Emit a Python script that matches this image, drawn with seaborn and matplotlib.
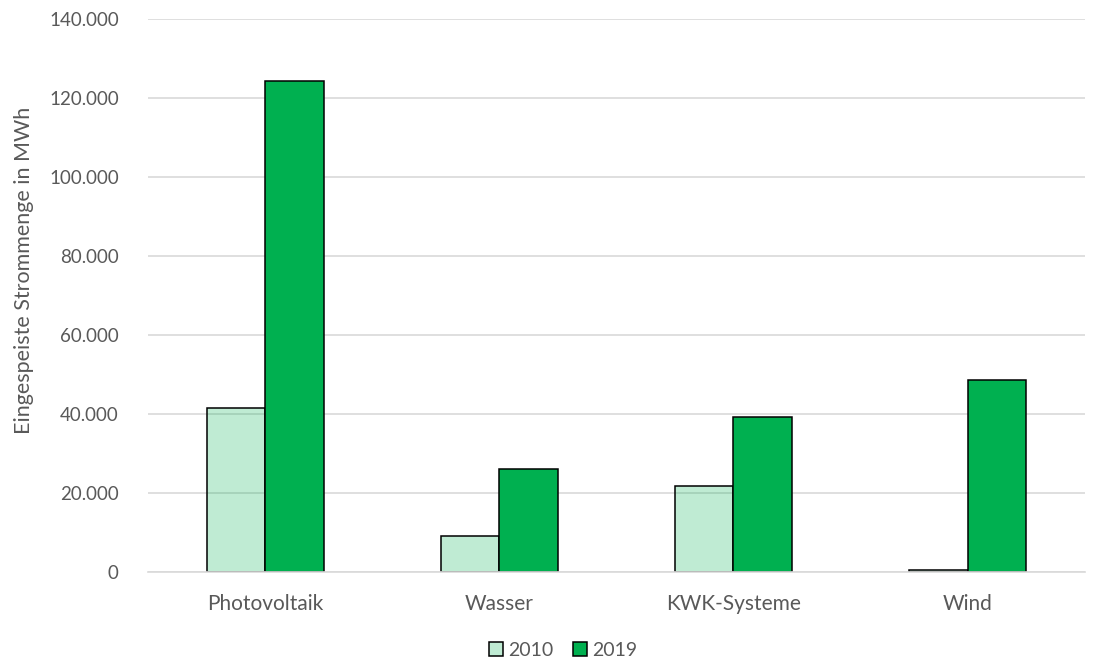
import matplotlib.pyplot as plt
import matplotlib.ticker as mticker
import seaborn as sns
import pandas as pd

categories = ["Photovoltaik", "Wasser", "KWK-Systeme", "Wind"]
years = ["2010", "2019"]
values_2010 = [41500, 9000, 21850, 400]
values_2019 = [124300, 26150, 39250, 48600]

df = pd.DataFrame({
    "Kategorie": categories * 2,
    "Jahr": [years[0]] * 4 + [years[1]] * 4,
    "MWh": values_2010 + values_2019,
})

sns.set_theme(style="white")
plt.rcParams["font.family"] = ["Lato", "DejaVu Sans"]
text_color = "#595959"
grid_color = "#D9D9D9"
green = "#00B050"

fig = plt.figure(figsize=(11.08, 6.68), dpi=100)
ax = fig.add_axes([0.1336, 0.1437, 0.8454, 0.828])

sns.barplot(data=df, x="Kategorie", y="MWh", hue="Jahr", hue_order=years,
            palette={"2010": "#BFEBD3", "2019": green},
            width=0.5, gap=0, edgecolor="black", linewidth=1.1,
            saturation=1, ax=ax, legend=True)

# 2010 bars semi-transparent like the original
for bar in ax.containers[0]:
    bar.set_facecolor((0 / 255, 176 / 255, 80 / 255, 0.25))

ax.set_ylim(0, 140000)
ax.set_xlim(-0.5, 3.5)
ax.yaxis.set_major_locator(mticker.MultipleLocator(20000))
ax.yaxis.set_major_formatter(mticker.FuncFormatter(lambda v, p: f"{int(v):,}".replace(",", ".")))
ax.grid(axis="y", color=grid_color, linewidth=1.2)
ax.set_axisbelow(True)
for s in ["left", "right", "top"]:
    ax.spines[s].set_visible(False)
ax.spines["bottom"].set_color(grid_color)
ax.spines["bottom"].set_linewidth(1.2)
ax.tick_params(axis="both", length=0, colors=text_color)
ax.tick_params(axis="y", pad=21, labelsize=13.5)
ax.tick_params(axis="x", pad=16, labelsize=15)
ax.set_xlabel("")
ax.set_ylabel("Eingespeiste Strommenge in MWh", fontsize=15.5, color=text_color)
ax.yaxis.set_label_coords(-0.1215, 0.546)

handles, labels = ax.get_legend_handles_labels()
ax.get_legend().remove()
fig.legend(handles, labels, loc="lower center", bbox_to_anchor=(0.508, -0.012), ncol=2,
           frameon=False, fontsize=14, handlelength=0.75, handleheight=0.75,
           handletextpad=0.25, columnspacing=1.0, labelcolor=text_color)

fig.savefig("out.png", dpi=100)
plt.close(fig)
